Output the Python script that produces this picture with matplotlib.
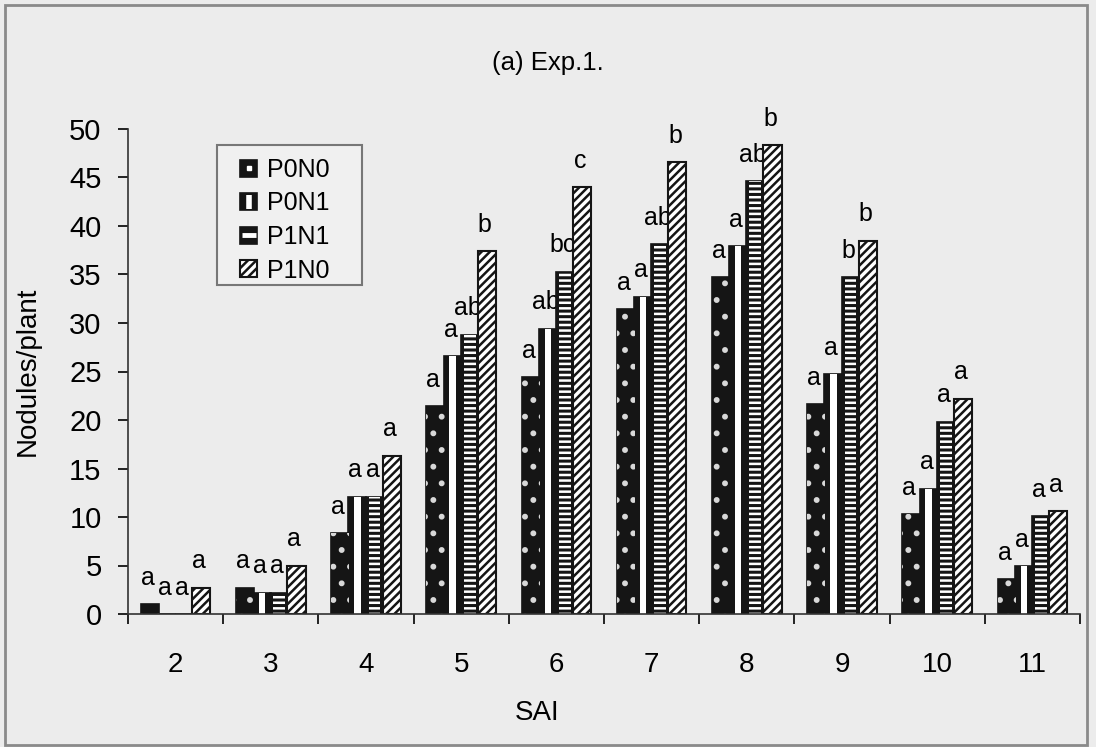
"""
Nodules per plant by sampling time (SAI), Exp. 1
"""

from matplotlib import pyplot as plt
from matplotlib.patches import Rectangle
from matplotlib.lines import Line2D
import numpy as np

plt.rcParams['font.family'] = ['Liberation Sans', 'DejaVu Sans']
plt.rcParams['hatch.linewidth'] = 1.8

# Values
SAI = ['2', '3', '4', '5', '6', '7', '8', '9', '10', '11']
TREATMENTS = ['P0N0', 'P0N1', 'P1N1', 'P1N0']
p0n0 = [1.0, 2.7, 8.3, 21.4, 24.4, 31.4, 34.7, 21.6, 10.3, 3.6]
p0n1 = [0.0, 2.2, 12.1, 26.6, 29.4, 32.7, 37.9, 24.7, 12.9, 4.9]
p1n1 = [0.0, 2.2, 12.1, 28.8, 35.3, 38.1, 44.6, 34.7, 19.8, 10.1]
p1n0 = [2.7, 5.0, 16.3, 37.4, 44.0, 46.6, 48.3, 38.5, 22.2, 10.6]
# significance letters above each bar
lab_p0n0 = ['a', 'a', 'a', 'a', 'a', 'a', 'a', 'a', 'a', 'a']
lab_p0n1 = ['a', 'a', 'a', 'a', 'ab', 'a', 'a', 'a', 'a', 'a']
lab_p1n1 = ['a', 'a', 'a', 'ab', 'bc', 'ab', 'ab', 'b', 'a', 'a']
lab_p1n0 = ['a', 'a', 'a', 'b', 'c', 'b', 'b', 'b', 'a', 'a']

BG = '#ececec'
W = 0.19
OFFSETS = [-0.27, -0.09, 0.09, 0.27]

fig = plt.figure(figsize=(10.96, 7.47), dpi=100, facecolor=BG)
ax = fig.add_axes([128 / 1096, 133 / 747, 952 / 1096, 485 / 747])
ax.set_facecolor(BG)

x = np.arange(len(SAI))
values = [p0n0, p0n1, p1n1, p1n0]
letters = [lab_p0n0, lab_p0n1, lab_p1n1, lab_p1n0]

# P0N0: black with sparse white dots
b0 = ax.bar(x + OFFSETS[0], p0n0, W, color='#151515', edgecolor='#151515', lw=1.2, zorder=2)
ax.bar(x + OFFSETS[0], p0n0, W, fill=False, edgecolor='#d8d8d8', hatch='.', lw=0, zorder=2.1)
# P0N1: black with a white centre stripe
b1 = ax.bar(x + OFFSETS[1], p0n1, W, color='#151515', edgecolor='#151515', lw=1.2, zorder=2)
ax.bar(x + OFFSETS[1], p0n1, W * 0.35, color='white', lw=0, zorder=2.1)
# P1N1: black with white horizontal dashes
b2 = ax.bar(x + OFFSETS[2], p1n1, W, color='#151515', edgecolor='#151515', lw=1.2, zorder=2)
ax.bar(x + OFFSETS[2], p1n1, W * 0.65, fill=False, edgecolor='white', hatch='---', lw=0, zorder=2.1)
# P1N0: white with black diagonals
b3 = ax.bar(x + OFFSETS[3], p1n0, W, color='white', edgecolor='#151515', hatch='////', lw=1.5, zorder=2)

for off, vals, labs in zip(OFFSETS, values, letters):
    for xi, v, lab in zip(x, vals, labs):
        ax.annotate(lab, (xi + off, v), xytext=(-1.5, 14), textcoords='offset points',
                    ha='center', va='baseline', fontsize=18, zorder=1)

ax.set_xlim(-0.5, len(SAI) - 0.5)
ax.set_ylim(0, 50)
ax.set_yticks(np.arange(0, 51, 5))
ax.set_xticks(x, labels=SAI)
ax.set_xticks(np.arange(-0.5, len(SAI), 1), minor=True)
ax.tick_params(axis='x', which='major', length=0, pad=27, labelsize=20)
ax.tick_params(axis='x', which='minor', length=7, width=1.2, direction='out')
ax.tick_params(axis='y', length=7, width=1.2, direction='out', pad=12, labelsize=21)
for side in ['top', 'right']:
    ax.spines[side].set_visible(False)
for side in ['left', 'bottom']:
    ax.spines[side].set_color('#333333')
    ax.spines[side].set_linewidth(1.2)

ax.set_xlabel('SAI', fontsize=20)
ax.xaxis.set_label_coords(0.43, -0.177)
ax.set_ylabel('Nodules/plant', fontsize=20)
ax.yaxis.set_label_coords(-0.0914, 0.5)

fig.text(548 / 1096, 1 - 63 / 747, '(a) Exp.1.', ha='center', va='center', fontsize=18.5)

dot = Line2D([], [], marker='s', color='white', markersize=3.5, linestyle='None')
stripe = Line2D([], [], marker='|', color='white', markersize=10, mew=4, linestyle='None')
dash = Line2D([], [], marker='_', color='white', markersize=10, mew=3.5, linestyle='None')
leg = ax.legend([(b0, dot), (b1, stripe), (b2, dash), b3], TREATMENTS,
                loc='upper left', bbox_to_anchor=(240 / 1096, 1 - 158 / 747),
                bbox_transform=fig.transFigure, fontsize=18, frameon=False,
                handlelength=0.68, handleheight=0.68, handletextpad=0.4,
                labelspacing=0.38, borderpad=0, borderaxespad=0)

# legend frame, as drawn in the original; sits just under the legend
ax.add_patch(Rectangle((217 / 1096, 1 - 285 / 747), 145 / 1096, 140 / 747,
                       transform=fig.transFigure, facecolor='#f0f0f0',
                       edgecolor='#777777', lw=1.5, zorder=4, clip_on=False))
fig.patches.append(Rectangle((5 / 1096, 2 / 747), 1082 / 1096, 740 / 747,
                             transform=fig.transFigure, fill=False,
                             edgecolor='#8a8a8a', lw=2))

fig.savefig('out.png', dpi=100, facecolor=fig.get_facecolor())
